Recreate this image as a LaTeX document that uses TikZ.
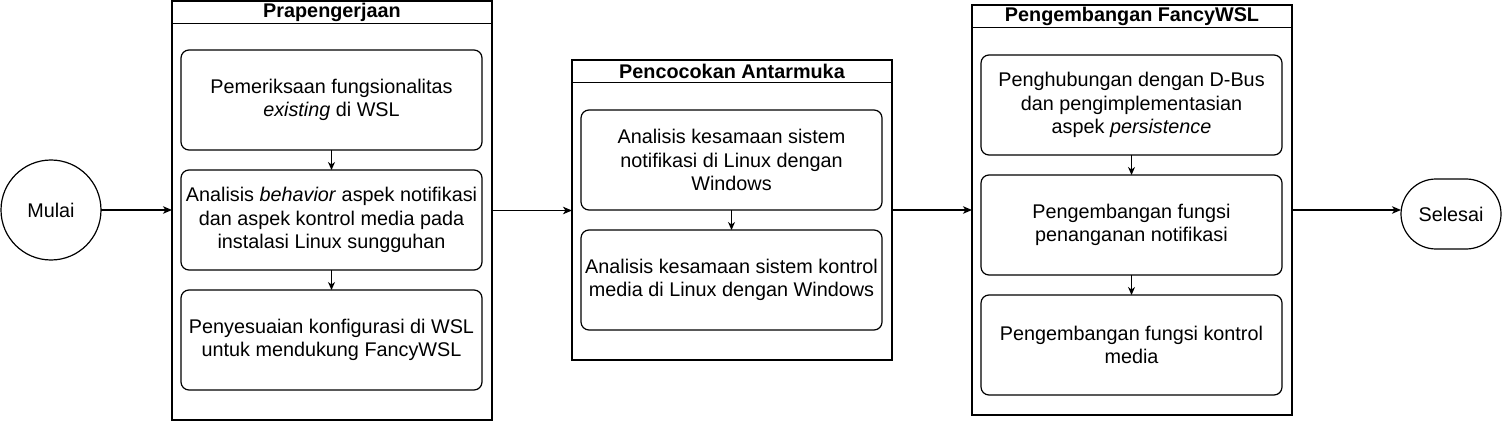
\documentclass[tikz,border=0pt]{standalone}
\usepackage{fontspec}
\setmainfont{Liberation Sans}
\usetikzlibrary{arrows.meta}
\begin{document}
\begin{tikzpicture}[x=1pt,y=-1pt,
  every node/.style={inner sep=0pt, outer sep=0pt},
  txt/.style={font=\fontsize{19.8}{23.4}\selectfont, align=center},
  container/.style={draw, line width=1.2pt, minimum width=320pt, anchor=north west},
  header/.style={draw, line width=1.2pt, minimum width=320pt, minimum height=22.5pt, anchor=north west, font=\bfseries\fontsize{19.8}{23.4}\selectfont},
  stepbox/.style={draw, line width=1.2pt, rounded corners=8pt, minimum width=301pt, minimum height=100pt, anchor=north west, txt},
  arr/.style={line width=1.1pt, -{Stealth[length=9pt,width=7.5pt,inset=2.5pt]}},
  sarr/.style={line width=1.1pt, -{Stealth[length=8pt,width=7pt,inset=2.5pt]}}
]
\useasboundingbox (0,0) rectangle (1503,422);

% Start
\node[draw, circle, line width=1.2pt, minimum size=100pt, txt] (m) at (51,210) {Mulai};

% Container 1
\node[container, minimum height=419pt] (c1) at (172,1) {};
\node[header] (h1) at (c1.north west) {Prapengerjaan};
\node[stepbox] (a1) at (181,50) {Pemeriksaan fungsionalitas\\\textit{existing} di WSL};
\node[stepbox] (a2) at (181,170) {Analisis \textit{behavior} aspek notifikasi\\dan aspek kontrol media pada\\instalasi Linux sungguhan};
\node[stepbox] (a3) at (181,290) {Penyesuaian konfigurasi di WSL\\untuk mendukung FancyWSL};

% Container 2
\node[container, minimum height=300pt] (c2) at (572,60) {};
\node[header] (h2) at (c2.north west) {Pencocokan Antarmuka};
\node[stepbox] (b1) at (581,110) {Analisis kesamaan sistem\\notifikasi di Linux dengan\\Windows};
\node[stepbox] (b2) at (581,230) {Analisis kesamaan sistem kontrol\\media di Linux dengan Windows};

% Container 3
\node[container, minimum height=410pt] (c3) at (972,5) {};
\node[header] (h3) at (c3.north west) {Pengembangan FancyWSL};
\node[stepbox] (d1) at (981,55) {Penghubungan dengan D-Bus\\dan pengimplementasian\\aspek \textit{persistence}};
\node[stepbox] (d2) at (981,175) {Pengembangan fungsi\\penanganan notifikasi};
\node[stepbox] (d3) at (981,295) {Pengembangan fungsi kontrol\\media};

% End
\node[draw, line width=1.2pt, rounded corners=35pt, minimum width=100pt, minimum height=70pt, txt] (s) at (1451,214) {Selesai};

% Connectors
\draw[arr] (m.east) -- (m.east -| c1.west);
\draw[arr] (c1.east) -- (c1.east -| c2.west);
\draw[arr] (c2.east) -- (c2.east -| c3.west);
\draw[arr] (c3.east) -- (c3.east -| s.west);

\draw[sarr] (a1.south) -- (a2.north);
\draw[sarr] (a2.south) -- (a3.north);
\draw[sarr] (b1.south) -- (b2.north);
\draw[sarr] (d1.south) -- (d2.north);
\draw[sarr] (d2.south) -- (d3.north);
\end{tikzpicture}
\end{document}
